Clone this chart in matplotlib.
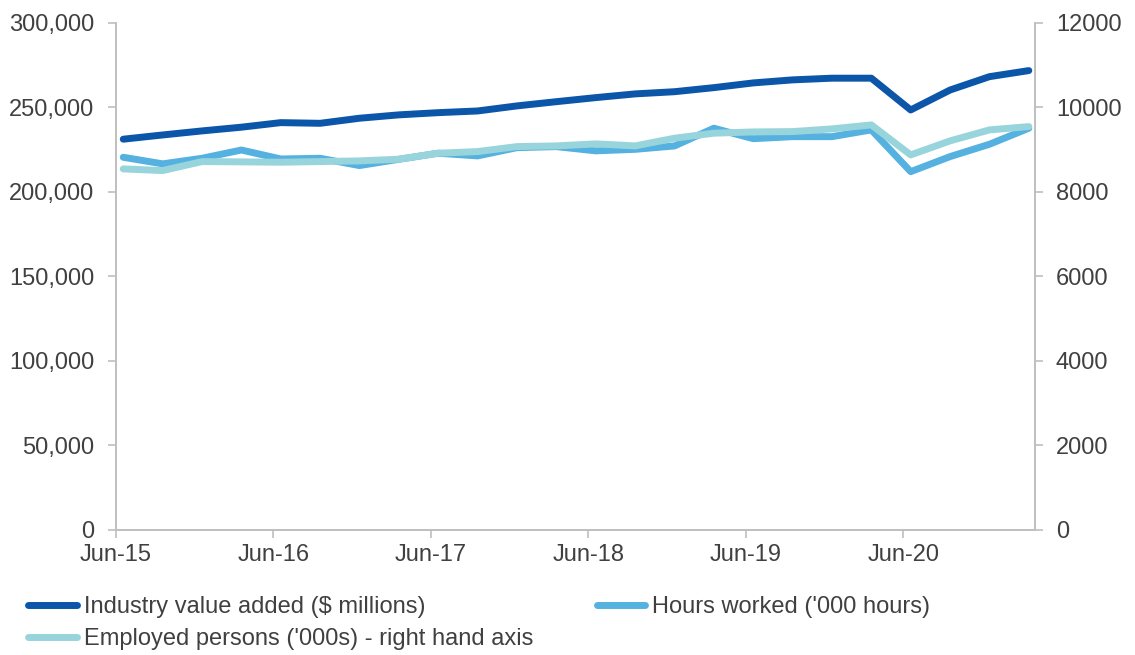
import numpy as np
import matplotlib
matplotlib.use("Agg")
import matplotlib.pyplot as plt
from matplotlib.ticker import FuncFormatter

plt.rcParams['font.family'] = ['Liberation Sans', 'DejaVu Sans']

quarters = ['Jun-15', 'Sep-15', 'Dec-15', 'Mar-16', 'Jun-16', 'Sep-16', 'Dec-16', 'Mar-17',
            'Jun-17', 'Sep-17', 'Dec-17', 'Mar-18', 'Jun-18', 'Sep-18', 'Dec-18', 'Mar-19',
            'Jun-19', 'Sep-19', 'Dec-19', 'Mar-20', 'Jun-20', 'Sep-20', 'Dec-20', 'Mar-21']

value_added = [231200, 233700, 236100, 238300, 241000, 240600, 243600, 245600,
               246900, 247900, 250900, 253400, 255800, 258000, 259300, 261700,
               264500, 266300, 267300, 267300, 248500, 260300, 268200, 271800]

hours_worked = [220500, 216600, 219900, 224800, 219500, 219900, 215600, 219300,
                222900, 221300, 226200, 226800, 224300, 225200, 227200, 237700,
                231500, 232700, 232700, 236700, 212000, 220900, 228200, 237700]

employed = [8545, 8505, 8718, 8711, 8703, 8718, 8734, 8774,
            8916, 8955, 9073, 9089, 9137, 9089, 9271, 9390,
            9420, 9428, 9492, 9586, 8876, 9208, 9468, 9546]

tick_labels = ['Jun-15', 'Jun-16', 'Jun-17', 'Jun-18', 'Jun-19', 'Jun-20']

c_dark = '#0B56A8'
c_mid = '#55B1E0'
c_light = '#98D4DC'
grey = '#BFBFBF'
txt = '#404040'

# quarters plotted a little after the month tick, as in the source
x = np.arange(len(quarters)) + 0.19
tick_pos = [quarters.index(t) for t in tick_labels]

fig = plt.figure(figsize=(11.35, 6.55), dpi=100)
ax = fig.add_axes([0.102, 0.191, 0.810, 0.774])
ax2 = ax.twinx()

l1, = ax.plot(x, value_added, color=c_dark, lw=5, solid_capstyle='round', solid_joinstyle='round',
              label='Industry value added ($ millions)')
l2, = ax.plot(x, hours_worked, color=c_mid, lw=5, solid_capstyle='round', solid_joinstyle='round',
              label="Hours worked ('000 hours)")
l3, = ax2.plot(x, employed, color=c_light, lw=5, solid_capstyle='round', solid_joinstyle='round',
               label="Employed persons ('000s) - right hand axis")

ax.set_xlim(0, 23.35)
ax.set_ylim(0, 300000)
ax2.set_ylim(0, 12000)
ax.set_yticks(np.arange(0, 300001, 50000))
ax2.set_yticks(np.arange(0, 12001, 2000))
ax.yaxis.set_major_formatter(FuncFormatter(lambda v, p: f'{int(v):,}'))
ax.set_xticks(tick_pos)
ax.set_xticklabels(tick_labels)

for a in (ax, ax2):
    a.spines['top'].set_visible(False)
    for s in ('left', 'right', 'bottom'):
        a.spines[s].set_color(grey)
        a.spines[s].set_linewidth(1.2)
    a.tick_params(colors=grey, labelcolor=txt, labelsize=17, length=5.5, width=1.2)
ax.tick_params(axis='y', pad=10)
ax2.tick_params(axis='y', pad=9.5)
ax.tick_params(axis='x', pad=4.5)

fig.legend(handles=[l1, l3, l2], loc='upper left', bbox_to_anchor=(0.025, 0.09), ncol=2,
           frameon=False, fontsize=17, handlelength=2.05, handletextpad=0.3,
           columnspacing=2.7, labelspacing=0.43, borderaxespad=0, borderpad=0,
           labelcolor=txt)

fig.savefig('out.png', dpi=100)
